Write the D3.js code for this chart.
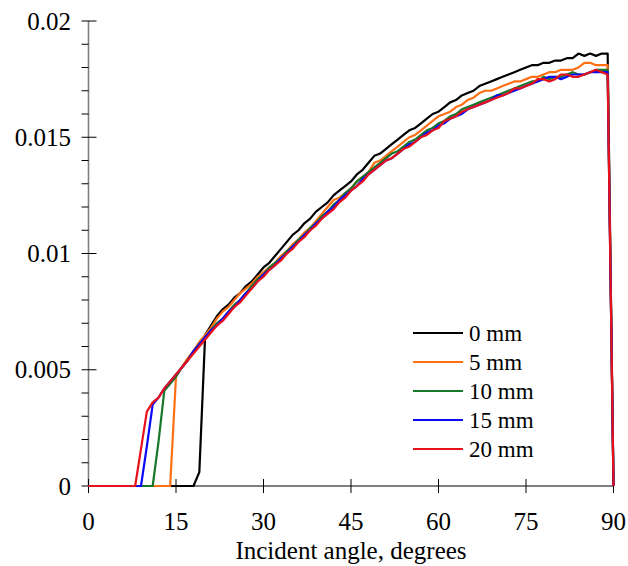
<!DOCTYPE html>
<html>
<head>
<meta charset="utf-8">
<script src="https://cdn.jsdelivr.net/npm/d3@7"></script>
<style>
  body { margin: 0; background: #fff; }
  svg text { font-family: "Liberation Serif", "Times New Roman", serif; fill: #000; }
</style>
</head>
<body>
<div id="chart"></div>
<script>
// incident angle, degrees (1 degree steps)
const angles = d3.range(0, 91);

const seriesNames = ["0 mm", "5 mm", "10 mm", "15 mm", "20 mm"];
const seriesColors = ["#000000", "#ff7015", "#17782a", "#0a0af5", "#e8101a"];

const mm0 = [0,0,0,0,0,0,0,0,0,0, 0,0,0,0,0,0,0,0,0,0.0006,
  0.0065,0.0069,0.0073,0.0076,0.0078,0.0081,0.0083,0.0086,0.0088,0.0091,
  0.0094,0.0096,0.0099,0.0102,0.0105,0.0108,0.0110,0.0113,0.0115,0.0118,
  0.0120,0.0122,0.0125,0.0127,0.0129,0.0131,0.0134,0.0136,0.0139,0.0142,
  0.0143,0.0145,0.0147,0.0149,0.0151,0.0153,0.0154,0.0156,0.0158,0.0160,
  0.0161,0.0163,0.0165,0.0166,0.0168,0.0169,0.0170,0.0172,0.0173,0.0174,
  0.0175,0.0176,0.0177,0.0178,0.0179,0.0180,0.0181,0.0181,0.0182,0.0182,
  0.0183,0.0183,0.0184,0.0184,0.0186,0.0185,0.0186,0.0185,0.0186,0.0186,
  0];

const mm5 = [0,0,0,0,0,0,0,0,0,0, 0,0,0,0,0,0.0047,0.0051,0.0055,0.0058,0.0062,
  0.0065,0.0068,0.0072,0.0075,0.0077,0.0080,0.0083,0.0085,0.0087,0.0090,
  0.0092,0.0094,0.0096,0.0099,0.0101,0.0104,0.0106,0.0109,0.0111,0.0114,
  0.0117,0.0120,0.0123,0.0124,0.0126,0.0128,0.0131,0.0133,0.0135,0.0139,
  0.0140,0.0142,0.0144,0.0146,0.0148,0.0150,0.0151,0.0153,0.0155,0.0157,
  0.0159,0.0160,0.0161,0.0163,0.0164,0.0166,0.0167,0.0169,0.0170,0.0170,
  0.0171,0.0172,0.0173,0.0174,0.0174,0.0175,0.0176,0.0176,0.0177,0.0178,
  0.0178,0.0179,0.0179,0.0179,0.0180,0.0182,0.0182,0.0181,0.0181,0.0181,
  0];

const mm10 = [0,0,0,0,0,0,0,0,0,0, 0,0,0.0019,0.0041,0.0044,0.0047,0.0051,0.0054,0.0058,0.0061,
  0.0064,0.0067,0.0070,0.0072,0.0075,0.0078,0.0080,0.0083,0.0086,0.0089,
  0.0091,0.0094,0.0096,0.0098,0.0101,0.0103,0.0106,0.0108,0.0111,0.0113,
  0.0116,0.0118,0.0121,0.0123,0.0126,0.0128,0.0131,0.0133,0.0135,0.0137,
  0.0139,0.0141,0.0143,0.0144,0.0146,0.0148,0.0149,0.0151,0.0153,0.0154,
  0.0156,0.0157,0.0159,0.0160,0.0162,0.0163,0.0164,0.0165,0.0166,0.0167,
  0.0168,0.0169,0.0170,0.0171,0.0172,0.0173,0.0174,0.0174,0.0176,0.0175,
  0.0176,0.0176,0.0177,0.0178,0.0177,0.0177,0.0178,0.0179,0.0179,0.0179,
  0];

const mm15 = [0,0,0,0,0,0,0,0,0,0, 0.0017,0.0035,0.0038,0.0042,0.0045,0.0048,0.0051,0.0054,0.0058,0.0061,
  0.0064,0.0067,0.0069,0.0072,0.0075,0.0077,0.0080,0.0083,0.0085,0.0088,
  0.0091,0.0093,0.0095,0.0098,0.0100,0.0103,0.0105,0.0108,0.0110,0.0113,
  0.0115,0.0118,0.0120,0.0123,0.0125,0.0127,0.0129,0.0132,0.0134,0.0136,
  0.0138,0.0140,0.0141,0.0143,0.0145,0.0147,0.0148,0.0150,0.0152,0.0153,
  0.0155,0.0156,0.0158,0.0159,0.0160,0.0162,0.0163,0.0164,0.0165,0.0166,
  0.0168,0.0168,0.0169,0.0170,0.0171,0.0172,0.0173,0.0174,0.0175,0.0176,
  0.0176,0.0175,0.0176,0.0177,0.0177,0.0177,0.0178,0.0178,0.0178,0.0178,
  0];

const mm20 = [0,0,0,0,0,0,0,0,0,0.0016, 0.0032,0.0036,0.0038,0.0042,0.0045,0.0048,0.0051,0.0054,0.0057,0.0060,
  0.0063,0.0066,0.0069,0.0071,0.0074,0.0077,0.0079,0.0082,0.0085,0.0088,
  0.0090,0.0093,0.0095,0.0097,0.0100,0.0102,0.0105,0.0107,0.0110,0.0112,
  0.0115,0.0117,0.0119,0.0122,0.0124,0.0127,0.0129,0.0131,0.0134,0.0136,
  0.0138,0.0140,0.0141,0.0143,0.0145,0.0146,0.0148,0.0150,0.0151,0.0153,
  0.0154,0.0157,0.0158,0.0159,0.0161,0.0162,0.0163,0.0164,0.0165,0.0166,
  0.0167,0.0168,0.0169,0.0171,0.0171,0.0172,0.0173,0.0175,0.0175,0.0174,
  0.0175,0.0177,0.0177,0.0176,0.0176,0.0177,0.0178,0.0179,0.0178,0.0177,
  0];

const xTicks = [0, 15, 30, 45, 60, 75, 90];
const yTicks = [0, 0.005, 0.01, 0.015, 0.02];
const yMinor = [0.001, 0.002, 0.003, 0.004, 0.006, 0.007, 0.008, 0.009,
  0.011, 0.012, 0.013, 0.014, 0.016, 0.017, 0.018, 0.019];

const width = 628, height = 566;
const plot = { left: 88.5, right: 613.5, top: 21, bottom: 486 };

const svg = d3.select("#chart").append("svg")
  .attr("width", width)
  .attr("height", height);

const x = d3.scaleLinear().domain([0, 90]).range([plot.left, plot.right]);
const y = d3.scaleLinear().domain([0, 0.02]).range([plot.bottom, plot.top]);

// axis lines
svg.append("line")
  .attr("x1", plot.left).attr("x2", plot.left).attr("y1", plot.top).attr("y2", plot.bottom)
  .attr("stroke", "#808080").attr("stroke-width", 1.6);
svg.append("line")
  .attr("x1", plot.left).attr("x2", plot.right).attr("y1", plot.bottom).attr("y2", plot.bottom)
  .attr("stroke", "#808080").attr("stroke-width", 2);

// y ticks: major ones cross the axis, minor ones only outside
svg.selectAll("line.ymaj")
  .data(yTicks)
  .join("line")
  .attr("class", "ymaj")
  .attr("x1", plot.left - 7).attr("x2", plot.left + 8)
  .attr("y1", d => y(d)).attr("y2", d => y(d))
  .attr("stroke", "#000").attr("stroke-width", 1);
svg.selectAll("line.ymin")
  .data(yMinor)
  .join("line")
  .attr("class", "ymin")
  .attr("x1", plot.left - 7).attr("x2", plot.left)
  .attr("y1", d => y(d)).attr("y2", d => y(d))
  .attr("stroke", "#000").attr("stroke-width", 1);
svg.selectAll("text.ylab")
  .data(yTicks)
  .join("text")
  .attr("class", "ylab")
  .attr("x", 71)
  .attr("y", d => y(d) + 8.5)
  .attr("text-anchor", "end")
  .attr("font-size", 25)
  .text(d => d3.format("")(d));

// x ticks
svg.selectAll("line.xmaj")
  .data(xTicks)
  .join("line")
  .attr("class", "xmaj")
  .attr("x1", d => x(d)).attr("x2", d => x(d))
  .attr("y1", plot.bottom - 7).attr("y2", plot.bottom + 7)
  .attr("stroke", "#000").attr("stroke-width", 1);
svg.selectAll("text.xlab")
  .data(xTicks)
  .join("text")
  .attr("class", "xlab")
  .attr("x", d => x(d))
  .attr("y", 530)
  .attr("text-anchor", "middle")
  .attr("font-size", 25)
  .text(d => d);

svg.append("text")
  .attr("x", 351)
  .attr("y", 559)
  .attr("text-anchor", "middle")
  .attr("font-size", 25)
  .text("Incident angle, degrees");

// series
const allSeries = [mm0, mm5, mm10, mm15, mm20];
const line = d3.line()
  .x((d, i) => x(angles[i]))
  .y(d => y(d));

svg.selectAll("path.series")
  .data(allSeries)
  .join("path")
  .attr("class", "series")
  .attr("fill", "none")
  .attr("stroke", (d, i) => seriesColors[i])
  .attr("stroke-width", 2.2)
  .attr("stroke-linejoin", "round")
  .attr("d", line);

// legend
const legend = svg.append("g").attr("transform", "translate(413, 333)");
const rows = legend.selectAll("g")
  .data(seriesNames)
  .join("g")
  .attr("transform", (d, i) => `translate(0, ${i * 29})`);
rows.append("line")
  .attr("x1", 0).attr("x2", 50)
  .attr("stroke", (d, i) => seriesColors[i])
  .attr("stroke-width", 2.2);
rows.append("text")
  .attr("x", 56)
  .attr("y", 8)
  .attr("font-size", 23)
  .text(d => d);
</script>
</body>
</html>
